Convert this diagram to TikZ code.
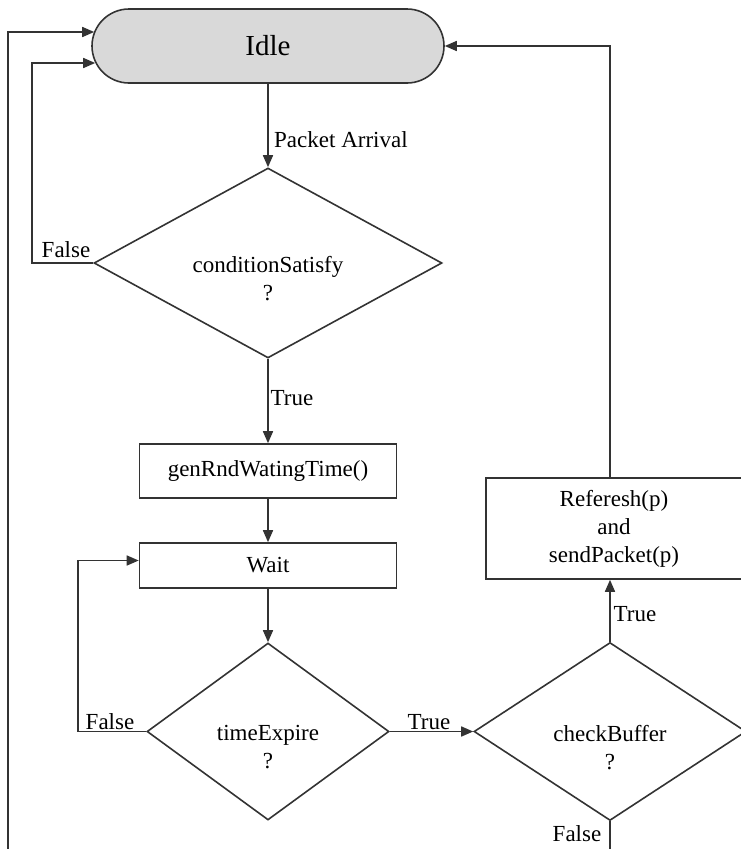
\documentclass[tikz,border=0pt]{standalone}
\usepackage{fontspec}
\setmainfont{Liberation Serif}
\usetikzlibrary{shapes.geometric,shapes.misc,arrows.meta,calc}
\begin{document}
\begin{tikzpicture}[x=1pt,y=-1pt,
  every node/.style={font=\fontsize{23}{28}\selectfont},
  ln/.style={line width=1.6pt, draw=black!80},
  arr/.style={ln, -{Triangle[length=12pt,width=10pt]}},
  box/.style={rectangle, ln, inner sep=0pt, align=center},
  dec/.style={diamond, ln, inner sep=0pt},
  lbl/.style={inner sep=0pt},
  dectext/.style={label={[yshift=-16pt,align=center,inner sep=0pt]center:#1}}]
\useasboundingbox (0,0) rectangle (741,849);
% nodes
\node[rounded rectangle, ln, fill=gray!30, minimum width=352pt, minimum height=74pt,
      inner sep=0pt, font=\fontsize{29}{34}\selectfont] (idle) at (268,46) {Idle};
\node[dec, minimum width=348pt, minimum height=190pt, dectext={conditionSatisfy\\?}] (cs) at (268,263) {};
\node[box, minimum width=257pt, minimum height=54pt] (gen) at (268,471) {genRndWatingTime()};
\node[box, minimum width=257pt, minimum height=45pt] (wait) at (268,565.5) {Wait};
\node[dec, minimum width=242pt, minimum height=177pt, dectext={timeExpire\\?}] (te) at (268,731.5) {};
\node[dec, minimum width=272pt, minimum height=178pt, dectext={checkBuffer\\?}] (cb) at (610,731.5) {};
\node[box, minimum width=256pt, minimum height=101pt] (ref) at (614,528.5) {Referesh(p)\\and\\sendPacket(p)};
% entry points
\coordinate (in1) at ($(idle.west)+(3,-14)$);
\coordinate (in2) at ($(idle.west)+(4,17)$);
\coordinate (in3) at ($(wait.west)+(0,-5)$);
% connectors
\draw[arr] (idle.south) -- (cs.north);
\draw[arr] (cs.west) -- ++(-61,0) |- (in2);
\draw[arr] (cs.south) -- (gen.north);
\draw[arr] (gen.south) -- (wait.north);
\draw[arr] (wait.south) -- (te.north);
\draw[arr] (te.west) -- ++(-68,0) |- (in3);
\draw[arr] (te.east) -- (cb.west);
\draw[arr] (cb.north) -- (cb.north |- ref.south);
\draw[arr] (ref.north -| cb.north) |- (idle.east);
\draw[arr] (cb.south) -- ++(0,60) -| ($(in1)+(-86,0)$) -- (in1);
% labels
\node[lbl, anchor=west] (lpa) at (274,140) {Packet Arrival};
\node[lbl] (lf1) at (66,250) {False};
\node[lbl] (lt1) at (292,398) {True};
\node[lbl] (lf2) at (110,722) {False};
\node[lbl] (lt2) at (429,722) {True};
\node[lbl] (lt3) at (635,614) {True};
\node[lbl] (lf3) at (577,834) {False};
\end{tikzpicture}
\end{document}
